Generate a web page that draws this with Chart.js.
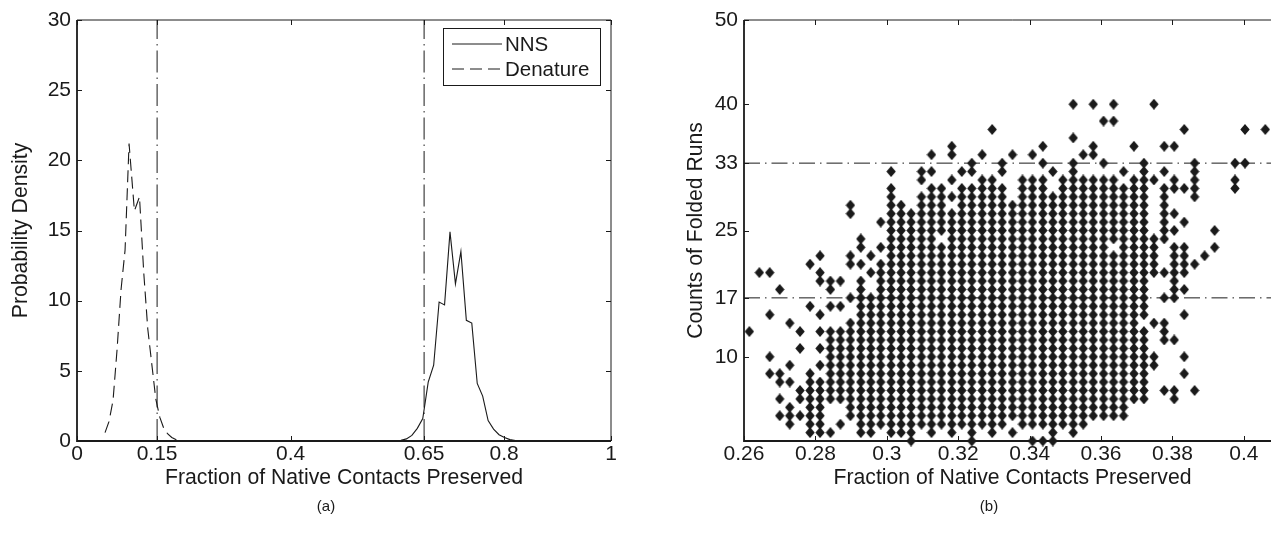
<!DOCTYPE html>
<html><head><meta charset="utf-8">
<script src="https://cdn.jsdelivr.net/npm/chart.js@4.4.0/dist/chart.umd.min.js"></script>
<style>
html,body{margin:0;padding:0;background:#fff;overflow:hidden;width:1271px;height:537px}
#ca{position:absolute;left:0;top:0}
#cb{position:absolute;left:640px;top:0}
</style></head><body>
<canvas id="ca" width="640" height="537"></canvas>
<canvas id="cb" width="660" height="537"></canvas>
<script>
// ---------- Panel (a) data ----------
const nnsX = [0.5965,0.6067,0.6169,0.6271,0.6373,0.6475,0.6577,0.6679,0.6781,0.6883,0.6985,0.7087,0.7189,0.7291,0.7393,0.7495,0.7597,0.7699,0.7801,0.7903,0.8005,0.8107,0.8209,0.8311,0.86];
const nnsY = [0,0.05,0.15,0.4,0.9,1.6,4.2,5.4,9.9,9.7,14.9,11.2,13.5,8.6,8.4,4.1,3.2,1.45,0.85,0.45,0.25,0.1,0.04,0,0];
const denX = [0.0525,0.06,0.0675,0.075,0.0825,0.09,0.0975,0.1075,0.117,0.125,0.1325,0.14,0.1475,0.155,0.1625,0.17,0.1775,0.185,0.19];
const denY = [0.6,1.4,2.9,6.5,10.8,13.6,21.2,16.4,17.4,12.0,8.0,5.5,3.0,1.7,0.9,0.5,0.25,0.1,0];
const cutoffsA = [0.15, 0.65];
const xTicksA = [0, 0.15, 0.4, 0.65, 0.8, 1];
const yTicksA = [0, 5, 10, 15, 20, 25, 30];

// ---------- Panel (b) data ----------
const colX = [0.2615,0.2643,0.2672,0.2700,0.2728,0.2757,0.2785,0.2813,0.2842,0.2870,0.2898,0.2927,0.2955,0.2983,0.3012,0.3040,0.3068,0.3097,0.3125,0.3153,0.3182,0.3210,0.3238,0.3267,0.3295,0.3323,0.3352,0.3380,0.3408,0.3437,0.3465,0.3493,0.3522,0.3550,0.3578,0.3607,0.3635,0.3663,0.3692,0.3720,0.3748,0.3777,0.3805,0.3833,0.3862,0.3890,0.3918,0.3947,0.3975,0.4003,0.4032,0.4060];
// folded-run counts present in each column (runs of integers written as a-b)
const colCounts = [
"13","20","8,10,15,20","3,5,7,8,18","2-4,7,9,14","3,5,6,11,13","1-8,16,21",
"1-7,9,11,13,15,19,20,22","1,5-13,16,18,19","2,5-13,16,19","3-14,17,21,22,27,28",
"1-19,21,23,24","1-17,20,22","2-21,23,26","1-30,32","1-28","0-27","2-29,31,32",
"1-30,32,34","2-23,25-30","1-27,29,31,34,35","2-30,32","0-30,32,33","2-31,34",
"1-31,37","2-30,32,33","1,3-28,34","2-31","0,2-31,34","0,2-31,33,35","0-29,32",
"2-31","1-33,36,40","2-31,34","3-31,34,35,40","3-31,33,38","3-22,24-31,38,40",
"3-30,32","5-31,35","5-13,15-33","9,10,14,20-24,31,40","6,12-14,17,20,24-30,32,35",
"5,6,12,17-23,25,27,30,31,35","8,10,15,18,20-23,26,30,37","6,21,29-33","22","23,25",
"","30,31,33","33,37","","37"];
const cutoffsB = [17, 33];
const xTicksB = [0.26,0.28,0.3,0.32,0.34,0.36,0.38,0.4];
const yTicksB = [10,17,25,33,40,50];

// ---------- helpers ----------
const FONT = '"Liberation Sans", Arial, Helvetica, sans-serif';
const INK = '#1a1a1a';
function parseCounts(s){
  const out=[]; if(!s) return out;
  s.split(',').forEach(p=>{
    if(p.includes('-')){const [a,b]=p.split('-').map(Number); for(let v=a;v<=b;v++) out.push(v);}
    else out.push(Number(p));
  });
  return out;
}
const scatterPts=[];
colX.forEach((x,i)=>parseCounts(colCounts[i]).forEach(v=>scatterPts.push({x:x,y:v})));

// diamond marker (slightly taller than wide, as in the original)
const diamond = document.createElement('canvas');
diamond.width = 10; diamond.height = 11;
(function(){
  const c = diamond.getContext('2d');
  c.fillStyle = INK;
  c.beginPath();
  c.moveTo(5, 0); c.lineTo(9.7, 5.5); c.lineTo(5, 11); c.lineTo(0.3, 5.5); c.closePath();
  c.fill();
})();

const framePlugin = {
  id:'frame',
  afterDraw(chart, args, opts){
    const {ctx, chartArea:a, scales} = chart;
    ctx.save();
    ctx.strokeStyle = INK;
    ctx.lineWidth = 1;
    ctx.beginPath();
    ctx.moveTo(a.left, a.top); ctx.lineTo(a.right, a.top);
    ctx.moveTo(a.right, a.top); ctx.lineTo(a.right, a.bottom);
    ctx.stroke();
    ctx.lineWidth = 1.8;
    ctx.beginPath();
    ctx.moveTo(a.left, a.top); ctx.lineTo(a.left, a.bottom); ctx.lineTo(a.right, a.bottom);
    ctx.stroke();
    ctx.lineWidth = 1;
    const L = 5;
    ctx.beginPath();
    scales.x.ticks.forEach(t=>{
      const px = Math.round(scales.x.getPixelForValue(t.value))+0.5;
      ctx.moveTo(px, a.bottom); ctx.lineTo(px, a.bottom-L);
      ctx.moveTo(px, a.top); ctx.lineTo(px, a.top+L);
    });
    scales.y.ticks.forEach(t=>{
      const py = Math.round(scales.y.getPixelForValue(t.value))+0.5;
      ctx.moveTo(a.left, py); ctx.lineTo(a.left+L, py);
      ctx.moveTo(a.right, py); ctx.lineTo(a.right-L, py);
    });
    ctx.stroke();
    ctx.fillStyle = INK;
    ctx.font = '15px ' + FONT;
    ctx.textAlign = 'center'; ctx.textBaseline = 'middle';
    ctx.fillText(opts.caption, opts.captionX, opts.captionY);
    if (opts.legend) {
      const lg = opts.legend;
      ctx.fillStyle = '#fff';
      ctx.fillRect(lg.x, lg.y, lg.w, lg.h);
      ctx.lineWidth = 1;
      ctx.strokeRect(lg.x+0.5, lg.y+0.5, lg.w, lg.h);
      ctx.fillStyle = INK;
      ctx.font = '20.5px ' + FONT;
      ctx.textAlign = 'left';
      chart.data.datasets.filter(d=>d.legendRow!==undefined).forEach(d=>{
        const y = lg.y + lg.row0 + d.legendRow*lg.rowH;
        ctx.beginPath();
        ctx.setLineDash(d.borderDash || []);
        ctx.moveTo(lg.x+9, y); ctx.lineTo(lg.x+59, y);
        ctx.stroke();
        ctx.setLineDash([]);
        ctx.fillText(d.label, lg.x+62, y+1);
      });
    }
    ctx.restore();
  }
};

const tickFont = {family: FONT, size: 21};
const titleFont = {family: FONT, size: 21.2};

// ---------- Panel (a) ----------
new Chart(document.getElementById('ca'), {
  type:'line',
  data:{datasets:[
    {label:'NNS', legendRow:0, data:nnsX.map((x,i)=>({x, y:nnsY[i]})), borderColor:INK, borderWidth:1.1, pointRadius:0, tension:0, fill:false},
    {label:'Denature', legendRow:1, data:denX.map((x,i)=>({x, y:denY[i]})), borderColor:INK, borderWidth:1.1, borderDash:[12,6], pointRadius:0, tension:0, fill:false},
    ...cutoffsA.map(c=>({label:'cut'+c, data:[{x:c,y:0},{x:c,y:30}], borderColor:INK, borderWidth:1, borderDash:[22,5,1.5,5], pointRadius:0}))
  ]},
  options:{
    responsive:false, animation:false, devicePixelRatio:1,
    layout:{padding:{left:0, top:20, right:29, bottom:0}},
    plugins:{legend:{display:false}, tooltip:{enabled:false},
      frame:{caption:'(a)', captionX:326, captionY:507,
        legend:{x:443, y:28, w:157, h:57, row0:16, rowH:25}}},
    scales:{
      x:{type:'linear', min:0, max:1,
        afterFit:s=>{s.height = 96;},
        afterBuildTicks:s=>{s.ticks = xTicksA.map(v=>({value:v}));},
        grid:{display:false, drawTicks:false}, border:{display:false},
        ticks:{color:INK, font:tickFont, padding:1, maxRotation:0, autoSkip:false, callback:v=>String(v)},
        title:{display:true, text:'Fraction of Native Contacts Preserved', color:INK, font:titleFont, padding:{top:0,bottom:46}}},
      y:{type:'linear', min:0, max:30,
        afterFit:s=>{s.width = 77;},
        afterBuildTicks:s=>{s.ticks = yTicksA.map(v=>({value:v}));},
        grid:{display:false, drawTicks:false}, border:{display:false},
        ticks:{color:INK, font:tickFont, padding:6, autoSkip:false},
        title:{display:true, text:'Probability Density', color:INK, font:titleFont, padding:{top:8,bottom:0}}}
    }
  },
  plugins:[framePlugin]
});

// ---------- Panel (b) ----------
new Chart(document.getElementById('cb'), {
  type:'scatter',
  data:{datasets:[
    {label:'runs', data:scatterPts, pointStyle:diamond, pointRadius:5, pointBorderWidth:0, backgroundColor:INK, borderColor:INK, clip:false},
    ...cutoffsB.map(c=>({type:'line', label:'cut'+c, data:[{x:0.26,y:c},{x:0.4104,y:c}], borderColor:INK, borderWidth:1, borderDash:[16,5,1.5,5], pointRadius:0}))
  ]},
  options:{
    responsive:false, animation:false, devicePixelRatio:1,
    layout:{padding:{left:0, top:20, right:19, bottom:0}},
    plugins:{legend:{display:false}, tooltip:{enabled:false},
      frame:{caption:'(b)', captionX:349, captionY:507}},
    scales:{
      x:{type:'linear', min:0.26, max:0.4104,
        afterFit:s=>{s.height = 96;},
        afterBuildTicks:s=>{s.ticks = xTicksB.map(v=>({value:v}));},
        grid:{display:false, drawTicks:false}, border:{display:false},
        ticks:{color:INK, font:tickFont, padding:1, maxRotation:0, autoSkip:false, callback:v=>String(v)},
        title:{display:true, text:'Fraction of Native Contacts Preserved', color:INK, font:titleFont, padding:{top:0,bottom:46}}},
      y:{type:'linear', min:0, max:50,
        afterFit:s=>{s.width = 104;},
        afterBuildTicks:s=>{s.ticks = yTicksB.map(v=>({value:v}));},
        grid:{display:false, drawTicks:false}, border:{display:false},
        ticks:{color:INK, font:tickFont, padding:6, autoSkip:false},
        title:{display:true, text:'Counts of Folded Runs', color:INK, font:titleFont, padding:{top:43,bottom:0}}}
    }
  },
  plugins:[framePlugin]
});
</script>
</body></html>
